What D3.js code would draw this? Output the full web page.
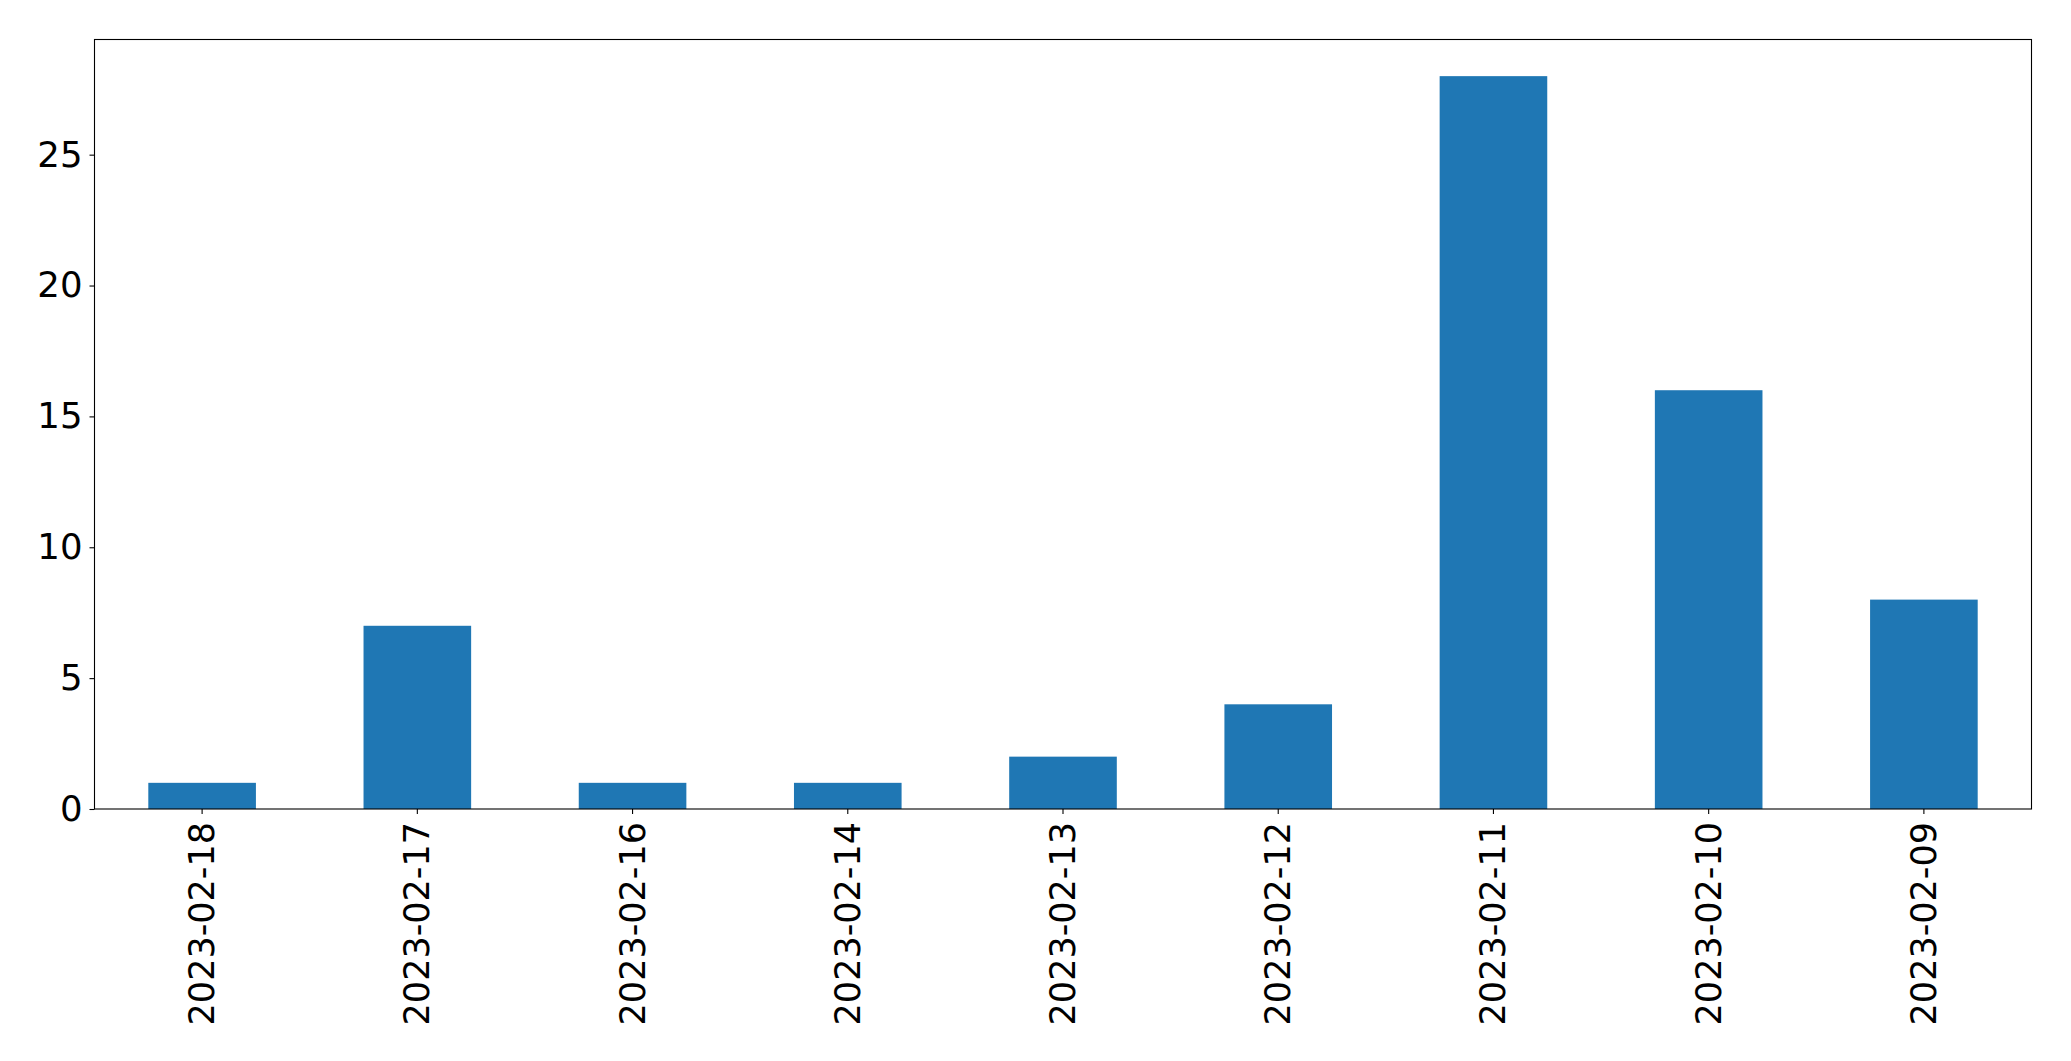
<!DOCTYPE html>
<html><head><meta charset="utf-8">
<script src="https://cdn.jsdelivr.net/npm/d3@7"></script>
<style>body{margin:0;background:#fff}svg{display:block}</style>
</head><body>
<svg id="chart" width="2071" height="1061"></svg>
<script>
const categories = ["2023-02-18","2023-02-17","2023-02-16","2023-02-14","2023-02-13","2023-02-12","2023-02-11","2023-02-10","2023-02-09"];
const values = [1,7,1,1,2,4,28,16,8];
const yTicks = [0,5,10,15,20,25];

const svg = d3.select("#chart");
const L = 94.5, R = 2031.5, T = 39.5, B = 809;
const x = d3.scaleBand().domain(categories).range([L, R]).paddingInner(0.5).paddingOuter(0.25);
const y = d3.scaleLinear().domain([0, d3.max(values) * 1.05]).range([B, T]);
const font = "DejaVu Sans, sans-serif";

svg.append("g").selectAll("rect").data(values).join("rect")
  .attr("x", (d, i) => x(categories[i]))
  .attr("width", x.bandwidth())
  .attr("y", d => y(d))
  .attr("height", d => y(0) - y(d))
  .attr("fill", "#1f77b4");

const yAxis = svg.append("g").attr("transform", `translate(${L},0)`)
  .call(d3.axisLeft(y).tickValues(yTicks).tickSize(5).tickPadding(7).tickFormat(d3.format("d")));
yAxis.select(".domain").remove();
yAxis.selectAll("text").attr("font-family", font).attr("font-size", 35.5).attr("fill", "#000");
yAxis.selectAll("line").attr("stroke", "#000").attr("stroke-width", 1.1);

const xAxis = svg.append("g").attr("transform", `translate(0,${B})`)
  .call(d3.axisBottom(x).tickSize(5).tickPadding(0));
xAxis.select(".domain").remove();
xAxis.selectAll("line").attr("stroke", "#000").attr("stroke-width", 1.1);
xAxis.selectAll("text")
  .attr("font-family", font).attr("font-size", 35).attr("fill", "#000")
  .attr("text-anchor", "end")
  .attr("dy", null)
  .attr("dominant-baseline", "central")
  .attr("transform", "translate(0,13) rotate(-90)")
  .attr("x", 0).attr("y", 0);

svg.append("rect").attr("x", L).attr("y", T).attr("width", R - L).attr("height", B - T)
  .attr("fill", "none").attr("stroke", "#000").attr("stroke-width", 1.1);
</script>
</body></html>
